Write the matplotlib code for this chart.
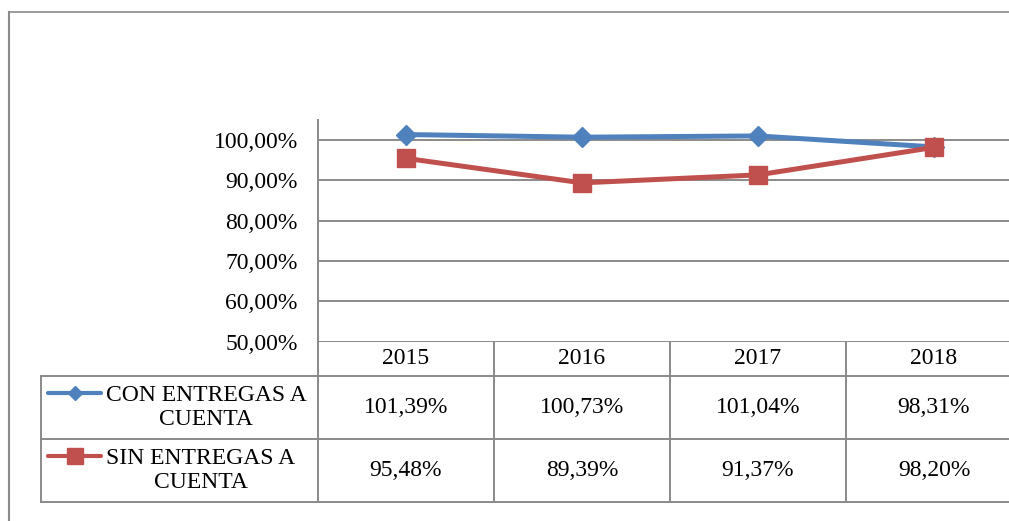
import matplotlib
matplotlib.use("Agg")
import matplotlib.pyplot as plt
from matplotlib.lines import Line2D
from matplotlib.ticker import FuncFormatter
import matplotlib.transforms as mtransforms

# Data
years = ["2015", "2016", "2017", "2018"]
con_entregas = [101.39, 100.73, 101.04, 98.31]
sin_entregas = [95.48, 89.39, 91.37, 98.20]
series_names = ["CON ENTREGAS A\nCUENTA", "SIN ENTREGAS A\nCUENTA"]

blue = "#4F81BD"
red = "#C0504D"
grid_gray = "#8A8A8A"

W, H = 1009, 521
plt.rcParams["font.family"] = ["Liberation Serif", "DejaVu Serif"]
plt.rcParams["font.size"] = 17

fig = plt.figure(figsize=(W / 100, H / 100), dpi=100)


def fx(px):
    return px / W


def fy(py):
    return 1 - py / H


# plot area (extends past the right edge like the original)
ax = fig.add_axes([fx(318), fy(341.5), fx(1022 - 318), (341.5 - 120) / H])
x = list(range(len(years)))
ax.plot(x, con_entregas, color=blue, lw=3.6, marker="D", ms=10,
        solid_joinstyle="round", zorder=3)
ax.plot(x, sin_entregas, color=red, lw=3.6, marker="s", ms=13.5,
        solid_joinstyle="round", zorder=3)

ax.set_xlim(-0.5, len(years) - 0.5)
ax.set_ylim(50, 105)
ax.set_yticks([50, 60, 70, 80, 90, 100])
ax.yaxis.set_major_formatter(FuncFormatter(lambda v, p: f"{v:.2f}".replace(".", ",") + "%"))
ax.tick_params(axis="y", length=0, pad=14.5, labelsize=17)
ax.set_xticks([])
ax.grid(axis="y", color=grid_gray, lw=1.4)
ax.set_axisbelow(True)
for s in ["top", "right", "bottom"]:
    ax.spines[s].set_visible(False)
ax.spines["left"].set_color(grid_gray)
ax.spines["left"].set_linewidth(1.4)

# data table below the plot
tr = mtransforms.blended_transform_factory(ax.transData, fig.transFigure)
row_lines = [341.5, 375.5, 439, 502]
line_kw = dict(color=grid_gray, lw=1.4, clip_on=False)

# vertical lines: axis line and category boundaries
fig.add_artist(Line2D([-0.5, -0.5], [fy(341.5), fy(502)], transform=tr, **line_kw))
for i in range(1, len(years)):
    fig.add_artist(Line2D([i - 0.5, i - 0.5], [fy(341.5), fy(502)], transform=tr, **line_kw))
# left column border
fig.add_artist(Line2D([fx(41), fx(41)], [fy(375.5), fy(502)],
                      transform=fig.transFigure, **line_kw))
# horizontal row lines
for r in row_lines[1:]:
    fig.add_artist(Line2D([fx(41), 1.0], [fy(r), fy(r)], transform=fig.transFigure, **line_kw))

# year header
for i, yr in enumerate(years):
    fig.text(i, fy((row_lines[0] + row_lines[1]) / 2), yr, transform=tr,
             ha="center", va="center", fontsize=17)

# value rows
rows = [(con_entregas, blue, "D", 7.5), (sin_entregas, red, "s", 11)]
for k, (vals, col, mk, mks) in enumerate(rows):
    top, bot = row_lines[k + 1], row_lines[k + 2]
    yc = fy((top + bot) / 2)
    for i, v in enumerate(vals):
        fig.text(i, yc, f"{v:.2f}".replace(".", ",") + "%", transform=tr,
                 ha="center", va="center", fontsize=17)
    # legend key
    ykey = fy(top + 17)
    fig.add_artist(Line2D([fx(48), fx(74.5), fx(101)], [ykey] * 3,
                          transform=fig.transFigure, color=col, lw=3,
                          solid_capstyle="round", marker=mk, ms=mks,
                          markevery=[1], clip_on=False))
    fig.text(fx(106), fy((top + bot) / 2), series_names[k], ha="left", va="center",
             multialignment="center", fontsize=17, linespacing=1.2)

# outer chart border
fig.add_artist(Line2D([fx(8.5), fx(8.5)], [0, fy(11.5)], transform=fig.transFigure,
                      color=grid_gray, lw=1.5))
fig.add_artist(Line2D([fx(8.5), 1], [fy(11.5), fy(11.5)], transform=fig.transFigure,
                      color=grid_gray, lw=1.2))

fig.savefig("out.png", dpi=100, facecolor="white")
